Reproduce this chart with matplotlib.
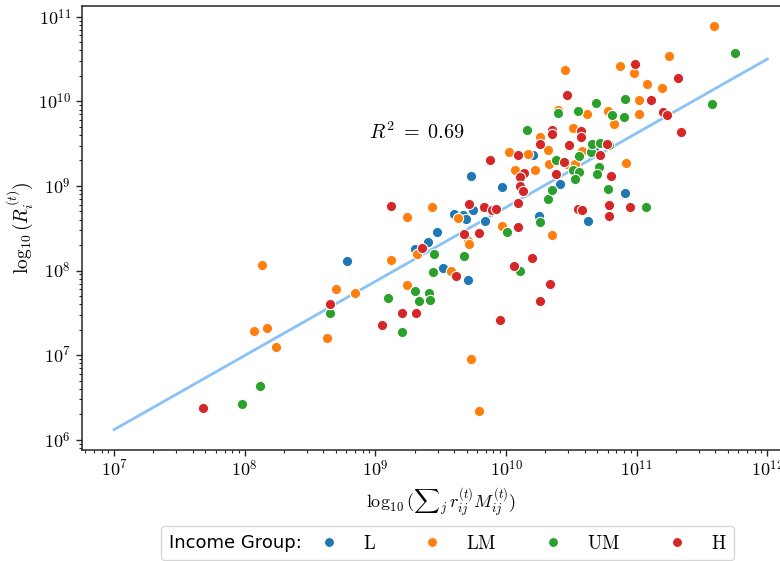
import numpy as np
import matplotlib
matplotlib.use("Agg")
import matplotlib.pyplot as plt
from matplotlib.lines import Line2D
from matplotlib.offsetbox import HPacker
from matplotlib.ticker import FuncFormatter, LogLocator

plt.rcParams['mathtext.fontset'] = 'cm'
plt.rcParams['font.family'] = ['DejaVu Sans']

# ---- data (log10 values) ----
L_x = [8.78, 9.30, 9.40, 9.47, 9.52, 9.71, 9.73, 9.97, 9.60, 9.67, 9.69, 9.75, 9.84,
       10.25, 10.21, 10.41, 10.91, 10.63, 10.67]
L_y = [8.11, 8.26, 8.34, 8.46, 8.03, 7.89, 9.12, 8.99, 8.67, 8.66, 8.61, 8.72, 8.59,
       8.64, 9.36, 9.02, 8.92, 8.59, 9.44]

LM_x = [8.13, 8.07, 8.17, 8.24, 8.70, 8.84, 8.63, 9.12, 9.24, 9.32, 9.58, 9.71, 9.72,
        9.73, 9.79, 9.24, 9.43, 9.63, 9.97, 10.35, 10.07, 10.22, 10.02, 10.17, 10.26,
        10.32, 10.40, 10.51, 10.33, 10.47, 10.53, 10.58, 10.62, 10.78, 10.83, 10.92,
        11.02, 11.02, 10.87, 10.98, 10.45, 11.08, 11.19, 11.25, 11.59]
LM_y = [8.07, 7.29, 7.32, 7.10, 7.78, 7.73, 7.20, 8.12, 7.83, 8.20, 8.00, 8.35, 8.31,
        6.95, 6.34, 8.63, 8.75, 8.62, 8.53, 8.42, 9.19, 9.19, 9.40, 9.38, 9.58,
        9.43, 9.90, 9.69, 9.26, 9.26, 9.26, 9.41, 9.85, 9.89, 9.73, 9.27,
        9.85, 10.01, 10.42, 10.33, 10.37, 10.20, 10.16, 10.54, 10.89]

UM_x = [7.98, 8.12, 8.65, 9.10, 9.20, 9.30, 9.33, 9.41, 9.42, 9.44, 9.45, 9.68, 10.01,
        10.11, 10.26, 10.32, 10.35, 10.38, 10.51, 10.56, 10.53, 10.56, 10.65, 10.66,
        10.72, 10.79, 10.71, 10.70, 10.78, 11.07, 10.16, 10.40, 10.55, 10.69, 10.81,
        10.90, 10.91, 11.58, 11.75]
UM_y = [6.42, 6.63, 7.50, 7.68, 7.27, 7.76, 7.64, 7.73, 7.65, 7.98, 8.20, 8.17, 8.46,
        7.99, 8.57, 8.84, 8.95, 9.31, 9.19, 9.16, 9.08, 9.35, 9.40, 9.49,
        9.51, 9.48, 9.22, 9.14, 8.96, 8.75, 9.66, 9.86, 9.88, 9.98, 9.84,
        9.82, 10.03, 9.97, 10.57]

H_x = [7.68, 8.65, 9.05, 9.20, 9.31, 9.36, 9.62, 9.68, 9.79, 10.06, 10.20, 10.34, 10.26,
       9.95, 10.09, 9.12, 9.72, 9.83, 9.89, 9.92, 10.09, 9.88, 10.09, 10.14, 10.11,
       10.11, 10.13, 10.38, 10.44, 10.26, 10.35, 10.35, 10.48, 10.57, 10.57, 10.47,
       10.77, 10.72, 10.80, 10.79, 10.79, 10.95, 10.55, 10.58, 10.99, 11.11, 11.20,
       11.23, 11.32, 11.34]
H_y = [6.38, 7.60, 7.36, 7.50, 7.50, 8.27, 7.93, 8.43, 8.44, 8.05, 8.15, 7.84, 7.64,
       7.41, 8.51, 8.76, 8.79, 8.75, 8.71, 8.73, 8.80, 9.31, 9.37, 9.15, 9.10,
       9.00, 8.94, 9.14, 9.28, 9.50, 9.66, 9.61, 9.48, 9.65, 9.58, 10.08,
       9.50, 9.36, 9.12, 8.78, 8.65, 8.75, 8.73, 8.71, 10.44, 10.01, 9.87,
       9.84, 10.27, 9.64]

fit_x_log = [7.0, 12.0]
fit_y_log = [6.12, 10.50]
r2_text = r'$R^2\;=\;0.69$'

groups = ['L', 'LM', 'UM', 'H']
group_x = [L_x, LM_x, UM_x, H_x]
group_y = [L_y, LM_y, UM_y, H_y]
colors = ['#1f77b4', '#ff7f0e', '#2ca02c', '#d62728']

# ---- figure ----
fig = plt.figure(figsize=(7.8, 5.61), dpi=100)
ax = fig.add_axes([0.1045, 0.198, 0.9211, 0.7918])

for gx, gy, c in zip(group_x, group_y, colors):
    ax.scatter(10 ** np.array(gx), 10 ** np.array(gy), s=55, color=c,
               edgecolor='white', linewidth=0.8, zorder=3)

ax.plot(10 ** np.array(fit_x_log), 10 ** np.array(fit_y_log), color='#88c2f7',
        linewidth=2, zorder=2)

ax.set_xscale('log')
ax.set_yscale('log')
ax.set_xlim(10 ** 6.75, 10 ** 12.25)
ax.set_ylim(10 ** 5.88, 10 ** 11.13)

fmt = FuncFormatter(lambda v, p: r'$10^{%d}$' % int(round(np.log10(v))))
ax.xaxis.set_major_locator(LogLocator(base=10, numticks=20))
ax.yaxis.set_major_locator(LogLocator(base=10, numticks=20))
ax.xaxis.set_major_formatter(fmt)
ax.yaxis.set_major_formatter(fmt)

ax.text(0.4, 0.70, r2_text, transform=ax.transAxes, fontsize=14.5)

ax.set_xlabel(r'$\log_{10}({\sum}_j\, r_{ij}^{(t)} M_{ij}^{(t)})$', fontsize=13)
ax.set_ylabel(r'$\log_{10}(R_i^{(t)})$', fontsize=14, labelpad=2)
ax.tick_params(axis='both', which='major', labelsize=13, length=4, width=1, color='#262626')
ax.tick_params(axis='both', which='minor', length=2.5, width=0.8, color='#262626')
for sp in ax.spines.values():
    sp.set_color('#262626')
    sp.set_linewidth(1.1)

handles = [Line2D([], [], marker='o', linestyle='', color=c, markersize=7,
                  markeredgecolor='white', markeredgewidth=0.6) for c in colors]
labels = [r'$\mathrm{%s}$' % g for g in groups]
leg = ax.legend(handles, labels, title='Income Group:', ncol=4, loc='upper center',
                bbox_to_anchor=(0.5095, -0.15), fontsize=13.6, title_fontsize=13,
                frameon=True)
vp = leg._legend_box
title_box, handle_box = vp.get_children()
newbox = HPacker(pad=0, sep=6, children=[title_box, handle_box], align='center')
vp._children = [newbox]

fig.savefig('out.png', dpi=100)
